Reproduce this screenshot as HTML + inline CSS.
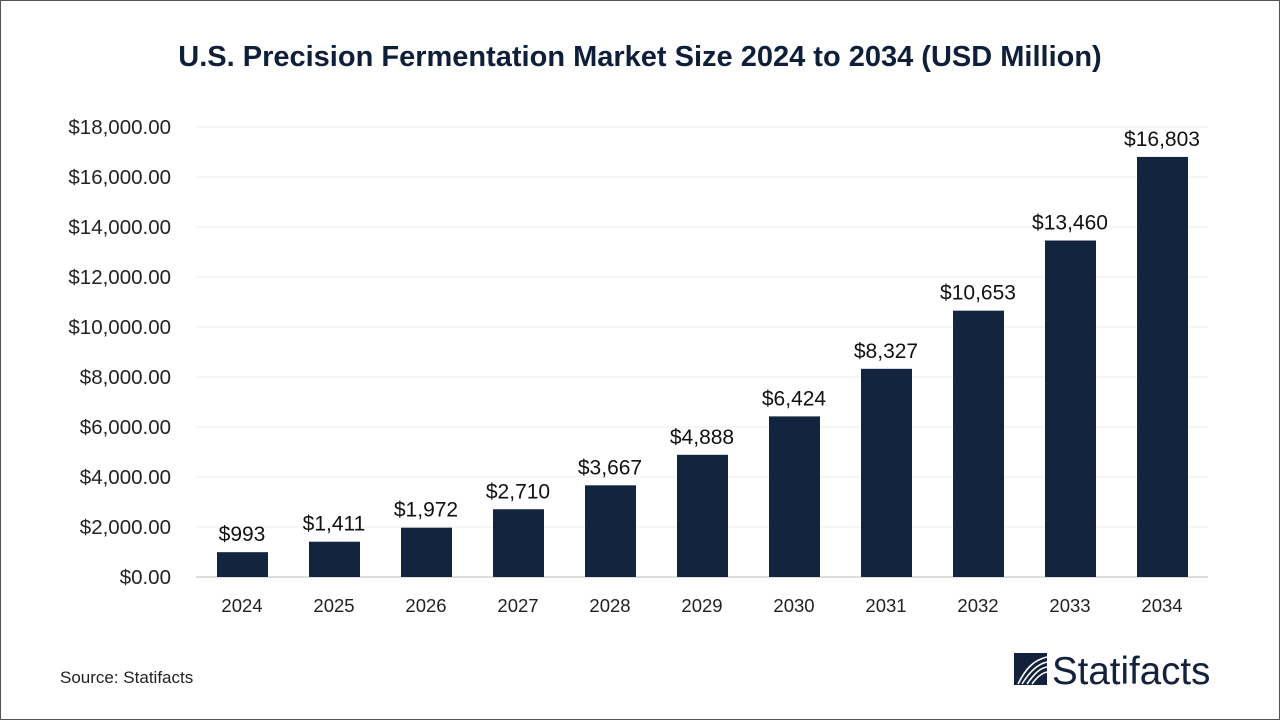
<!DOCTYPE html>
<html><head><meta charset="utf-8"><style>
body{margin:0;width:1280px;height:720px;background:#fff;overflow:hidden;font-family:"Liberation Sans",sans-serif}
#frame{position:absolute;left:0;top:0;width:1278px;height:718px;border:1px solid #555}
</style></head><body>
<div id="frame"></div>
<svg id="chart" width="1280" height="720" style="position:absolute;left:0;top:0">
<text x="640" y="66" text-anchor="middle" font-size="29" font-weight="bold" fill="#0f1f3a">U.S. Precision Fermentation Market Size 2024 to 2034 (USD Million)</text>
<g id="grid"></g><g id="bars"></g><g id="labels"></g>
<text x="60" y="683" font-size="17" fill="#222">Source: Statifacts</text>
<g>
<rect x="1014" y="653" width="33" height="32" fill="#13213d"/>
<path d="M1018 684 C1026 668,1034 660,1047 657 M1022 684 C1030 671,1038 664,1047 662 M1027 684 C1034 674,1040 668,1047 667 M1032 684 C1037 677,1042 673,1047 672" stroke="#fff" stroke-width="1.6" fill="none"/>
<text x="1052" y="684" font-size="38.5" fill="#13213d">Statifacts</text>
</g>
</svg>
<script>
const categories=["2024","2025","2026","2027","2028","2029","2030","2031","2032","2033","2034"];
const values=[993,1411,1972,2710,3667,4888,6424,8327,10653,13460,16803];
const valueLabels=["$993","$1,411","$1,972","$2,710","$3,667","$4,888","$6,424","$8,327","$10,653","$13,460","$16,803"];
const ticks=[0,2000,4000,6000,8000,10000,12000,14000,16000,18000];
const ns="http://www.w3.org/2000/svg";
const x0=196,x1=1208,yBase=577,yTop=127,maxV=18000;
const y=v=>yBase-(v/maxV)*(yBase-yTop);
const step=(x1-x0)/categories.length;
const xc=i=>x0+step*(i+0.5);
function mk(t,a,p){const e=document.createElementNS(ns,t);for(const k in a)e.setAttribute(k,a[k]);p.appendChild(e);return e;}
const grid=document.getElementById('grid'),bars=document.getElementById('bars'),labels=document.getElementById('labels');
ticks.forEach(t=>{
 const l=mk('line',{x1:x0,x2:x1,y1:y(t),y2:y(t),stroke:t===0?'#bbb':'#eee','stroke-width':1},grid);
 
 
 const tx=mk('text',{x:171,y:y(t)+7,'text-anchor':'end','font-size':20.5,fill:'#222'},grid);
 tx.textContent='$'+t.toLocaleString('en-US')+'.00';
 
 
});
categories.forEach((c,i)=>{
 const r=mk('rect',{x:xc(i)-25,y:y(values[i]),width:51,height:yBase-y(values[i]),fill:'#13243f'},bars);
 
 
 const v=mk('text',{x:xc(i),y:y(values[i])-11,'text-anchor':'middle','font-size':21,fill:'#111'},labels);
 v.textContent=valueLabels[i];
 
 
 const xl=mk('text',{x:xc(i),y:612,'text-anchor':'middle','font-size':18.5,fill:'#222'},labels);
 xl.textContent=c;
 
 
});
</script>
</body></html>
